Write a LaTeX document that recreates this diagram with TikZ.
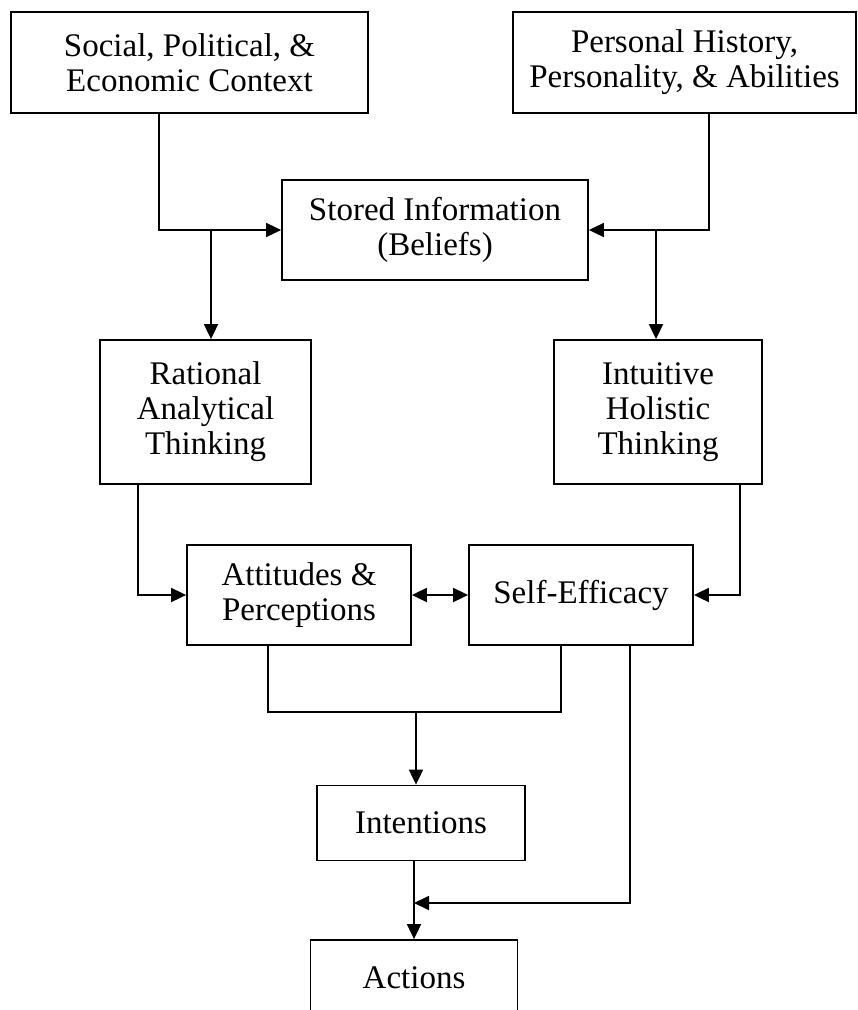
\documentclass[tikz,border=0pt]{standalone}
\usepackage{fontspec}
\setmainfont{Liberation Serif}
\usetikzlibrary{arrows.meta}
\begin{document}
\begin{tikzpicture}[x=1pt,y=-1pt,
  box/.style={draw, line width=1.8pt, align=center, inner sep=0pt,
    font=\fontsize{33}{35}\selectfont},
  link/.style={line width=1.8pt},
  arr/.style={link, -{Triangle[length=15pt,width=14pt]}},
  arrboth/.style={link, {Triangle[length=15pt,width=14pt]}-{Triangle[length=15pt,width=14pt]}}]
\clip (0,0) rectangle (858,1010);
\fill[white] (0,0) rectangle (858,1010);

% boxes
\node[box, minimum width=357pt, minimum height=101pt] (soc) at (189.5,62.5)
  {Social, Political, \&\\Economic Context};
\node[box, minimum width=343pt, minimum height=101pt] (pers) at (684.5,62.5)
  {Personal History,\\Personality, \& Abilities};
\node[box, minimum width=306pt, minimum height=100pt] (stored) at (435,230)
  {Stored Information\\(Beliefs)};
\node[box, minimum width=211pt, minimum height=144pt] (rat) at (205.5,412)
  {Rational\\Analytical\\Thinking};
\node[box, minimum width=208pt, minimum height=144pt] (intu) at (658,412)
  {Intuitive\\Holistic\\Thinking};
\node[box, minimum width=224pt, minimum height=100pt] (att) at (299,595)
  {Attitudes \&\\Perceptions};
\node[box, minimum width=224pt, minimum height=100pt] (self) at (581,595)
  {Self-Efficacy};
\node[box, minimum width=208pt, minimum height=75pt] (inten) at (421,823)
  {Intentions};
\node[box, minimum width=207pt, minimum height=76pt] (act) at (414,978)
  {Actions};

% routing points
\coordinate (sdrop) at (159,0);
\coordinate (pdrop) at (709,0);
\coordinate (jl) at (211,230);
\coordinate (jr) at (656,230);
\coordinate (rdrop) at (138,0);
\coordinate (idrop) at (740,0);
\coordinate (ma) at (268,712);
\coordinate (ms) at (561,712);
\coordinate (mm) at (416,712);
\coordinate (sdown) at (630,0);
\coordinate (jb) at (414,903);

% context and personal factors feed stored information
\draw[arr] (soc.south -| sdrop) |- (stored.west);
\draw[arr] (pers.south -| pdrop) |- (stored.east);
\draw[arr] (jl) -- (jl |- rat.north);
\draw[arr] (jr) -- (jr |- intu.north);

% thinking modes
\draw[arr] (rat.south -| rdrop) |- (att.west);
\draw[arr] (intu.south -| idrop) |- (self.east);
\draw[arrboth] (att.east) -- (self.west);

% toward intentions and actions
\draw[link] (att.south -| ma) -- (ma) -- (ms) -- (self.south -| ms);
\draw[arr] (mm) -- (mm |- inten.north);
\draw[arr] (self.south -| sdown) |- (jb);
\draw[arr] (inten.south -| jb) -- (act.north -| jb);
\end{tikzpicture}
\end{document}
